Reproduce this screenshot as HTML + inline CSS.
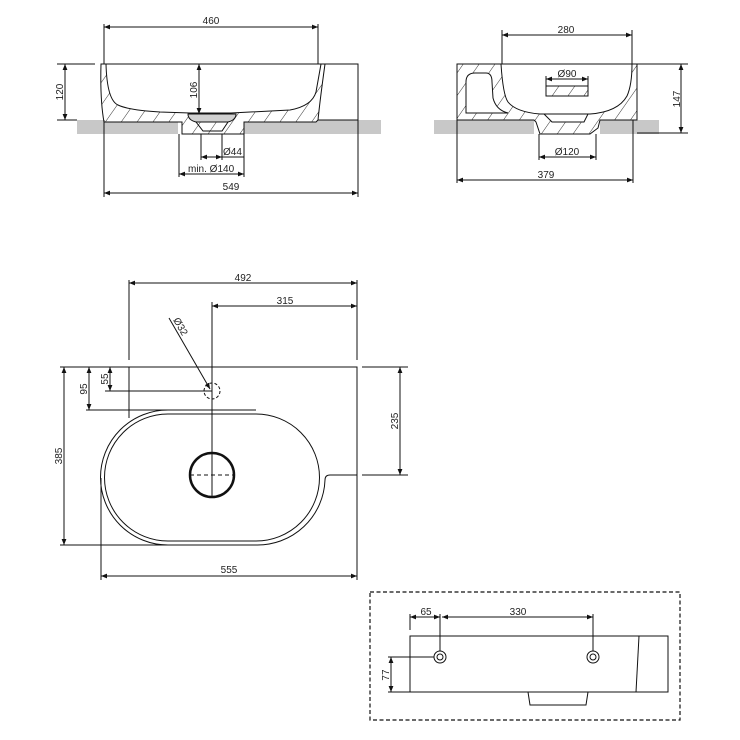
<!DOCTYPE html>
<html><head><meta charset="utf-8"><style>
html,body{margin:0;padding:0;background:#fff}
svg{display:block}
text{font-family:"Liberation Sans",sans-serif;font-size:10px;fill:#222}
</style></head><body>
<svg width="740" height="740" viewBox="0 0 740 740" xmlns="http://www.w3.org/2000/svg">
<defs>
<marker id="a" viewBox="0 0 10 10" refX="10" refY="5" markerWidth="6" markerHeight="6" orient="auto-start-reverse"><path d="M0,1 L10,5 L0,9 z" fill="#111"/></marker>
<pattern id="h" width="13" height="13" patternUnits="userSpaceOnUse" patternTransform="rotate(35)"><rect width="13" height="13" fill="#fff"/><line x1="0" y1="0" x2="0" y2="13" stroke="#333" stroke-width="1"/></pattern>
</defs>
<g stroke="#111" stroke-width="1" fill="none">

<rect x="77" y="120" width="101" height="14" fill="#c8c8c8" stroke="none"/>
<rect x="244" y="120" width="137" height="14" fill="#c8c8c8" stroke="none"/>
<path d="M101,64 L106,64 Q107,100 118,105 Q128,110 160,112 L190,113 L231,113 L290,110 Q312,106 316,92 L321,64 L325,64 Q320,100 318,120 L316,122 L244,122 L244,134 L182,134 L182,122 L104,122 Q100,100 101,64 Z" fill="url(#h)"/>
<path d="M188,114 L236,114 Q236,120 228,122 L196,122 Q188,120 188,114 Z" fill="#d0d0d0"/>
<path d="M196,122 L203,131 L222,131 L228,122" />
<path d="M320,64 L358,64 L358,120 L318,120"/>
<line x1="106" y1="64" x2="320" y2="64"/>
<line x1="104" y1="24" x2="104" y2="64"/>
<line x1="318" y1="24" x2="318" y2="64"/>
<line x1="104" y1="120" x2="104" y2="197"/>
<line x1="358" y1="120" x2="358" y2="197"/>
<line x1="57" y1="64" x2="95" y2="64"/>
<line x1="57" y1="120" x2="77" y2="120"/>
<line x1="179" y1="134" x2="179" y2="177"/>
<line x1="244" y1="134" x2="244" y2="177"/>
<line x1="201" y1="134" x2="201" y2="160"/>
<line x1="222" y1="134" x2="222" y2="160"/>
<line x1="104" y1="27" x2="318" y2="27" marker-start="url(#a)" marker-end="url(#a)"/>
<line x1="65" y1="64" x2="65" y2="120" marker-start="url(#a)" marker-end="url(#a)"/>
<line x1="199" y1="64" x2="199" y2="114" marker-start="url(#a)" marker-end="url(#a)"/>
<line x1="201" y1="157" x2="222" y2="157" marker-start="url(#a)" marker-end="url(#a)"/>
<line x1="222" y1="157" x2="244" y2="157"/>
<line x1="179" y1="174" x2="244" y2="174" marker-start="url(#a)" marker-end="url(#a)"/>
<line x1="104" y1="193" x2="358" y2="193" marker-start="url(#a)" marker-end="url(#a)"/>

<rect x="434" y="120" width="100" height="14" fill="#c8c8c8" stroke="none"/>
<rect x="600" y="120" width="59" height="14" fill="#c8c8c8" stroke="none"/>
<path d="M457,64 L501,64 Q503,95 508,102 Q516,112 540,114 L590,114 Q618,112 627,96 Q632,85 632,64 L637,64 L637,120 L600,120 L598,128 L590,134 L540,134 L536,122 L534,120 L457,120 Z" fill="url(#h)"/>
<path d="M466,112 L466,82 Q466,73 475,73 L486,73 Q492,73 492,82 L493,98 Q496,110 508,113 L466,113 Z" fill="#fff"/>
<line x1="501" y1="64" x2="632" y2="64"/>
<path d="M544,114 L588,114 L584,122 L552,122 Z" fill="#fff"/>
<rect x="546" y="86" width="42" height="10" fill="url(#h)"/>
<line x1="502" y1="30" x2="502" y2="64"/>
<line x1="632" y1="30" x2="632" y2="64"/>
<line x1="637" y1="64" x2="688" y2="64"/>
<line x1="637" y1="133" x2="688" y2="133"/>
<line x1="457" y1="120" x2="457" y2="183"/>
<line x1="633" y1="120" x2="633" y2="183"/>
<line x1="539" y1="134" x2="539" y2="160"/>
<line x1="596" y1="134" x2="596" y2="160"/>
<line x1="546" y1="76" x2="546" y2="86"/>
<line x1="588" y1="76" x2="588" y2="86"/>
<line x1="502" y1="35" x2="632" y2="35" marker-start="url(#a)" marker-end="url(#a)"/>
<line x1="546" y1="79" x2="588" y2="79" marker-start="url(#a)" marker-end="url(#a)"/>
<line x1="681" y1="64" x2="681" y2="133" marker-start="url(#a)" marker-end="url(#a)"/>
<line x1="539" y1="157" x2="596" y2="157" marker-start="url(#a)" marker-end="url(#a)"/>
<line x1="457" y1="180" x2="633" y2="180" marker-start="url(#a)" marker-end="url(#a)"/>

<path d="M60,367 L357,367 L357,475 L330,475 Q325,475 325,480"/>
<line x1="129" y1="367" x2="129" y2="418"/>
<path d="M256,410 L168,410 A67.5,67.5 0 0 0 168,545 L256,545 A67.5,67.5 0 0 0 325,480"/>
<path d="M168,414 L256,414 A63.5,63.5 0 0 1 256,541 L168,541 A63.5,63.5 0 0 1 168,414 Z"/>
<line x1="60" y1="545" x2="168" y2="545"/>
<line x1="86" y1="410" x2="168" y2="410"/>
<line x1="105" y1="391" x2="212" y2="391"/>
<line x1="101" y1="478" x2="101" y2="580"/>
<line x1="129" y1="280" x2="129" y2="360"/>
<line x1="357" y1="280" x2="357" y2="360"/>
<line x1="357" y1="475" x2="357" y2="580"/>
<line x1="362" y1="367" x2="408" y2="367"/>
<line x1="362" y1="475" x2="408" y2="475"/>
<line x1="212" y1="302" x2="212" y2="497"/>
<circle cx="212" cy="475" r="22" stroke-width="2.5"/>
<line x1="190" y1="475" x2="234" y2="475" stroke-dasharray="4,3"/>
<circle cx="212" cy="391" r="8" stroke-dasharray="3,2"/>
<line x1="169" y1="318" x2="210" y2="389" marker-end="url(#a)"/>
<line x1="129" y1="283" x2="357" y2="283" marker-start="url(#a)" marker-end="url(#a)"/>
<line x1="212" y1="306" x2="357" y2="306" marker-start="url(#a)" marker-end="url(#a)"/>
<line x1="64" y1="367" x2="64" y2="545" marker-start="url(#a)" marker-end="url(#a)"/>
<line x1="89" y1="367" x2="89" y2="410" marker-start="url(#a)" marker-end="url(#a)"/>
<line x1="110" y1="367" x2="110" y2="391" marker-start="url(#a)" marker-end="url(#a)"/>
<line x1="400" y1="367" x2="400" y2="475" marker-start="url(#a)" marker-end="url(#a)"/>
<line x1="101" y1="576" x2="357" y2="576" marker-start="url(#a)" marker-end="url(#a)"/>

<rect x="370" y="592" width="310" height="128" stroke-dasharray="4,2.5" stroke-width="1.2"/>
<rect x="410" y="636" width="258" height="56"/>
<line x1="639" y1="636" x2="636" y2="692"/>
<path d="M528,692 L530,705 L586,705 L588,692"/>
<circle cx="440" cy="657" r="6"/><circle cx="440" cy="657" r="3"/>
<circle cx="593" cy="657" r="6"/><circle cx="593" cy="657" r="3"/>
<line x1="410" y1="614" x2="410" y2="630"/>
<line x1="440" y1="614" x2="440" y2="651"/>
<line x1="593" y1="614" x2="593" y2="651"/>
<line x1="388" y1="657" x2="434" y2="657"/>
<line x1="388" y1="692" x2="410" y2="692"/>
<line x1="410" y1="617" x2="440" y2="617" marker-start="url(#a)" marker-end="url(#a)"/>
<line x1="442" y1="617" x2="593" y2="617" marker-start="url(#a)" marker-end="url(#a)"/>
<line x1="391" y1="657" x2="391" y2="692" marker-start="url(#a)" marker-end="url(#a)"/>
</g>

<text x="211" y="24" text-anchor="middle">460</text>
<text transform="translate(63,92) rotate(-90)" text-anchor="middle">120</text>
<text transform="translate(197,90) rotate(-90)" text-anchor="middle">106</text>
<text x="223" y="155">Ø44</text>
<text x="188" y="172">min. Ø140</text>
<text x="231" y="190" text-anchor="middle">549</text>

<text x="566" y="33" text-anchor="middle">280</text>
<text x="567" y="77" text-anchor="middle">Ø90</text>
<text transform="translate(680,99) rotate(-90)" text-anchor="middle">147</text>
<text x="567" y="155" text-anchor="middle">Ø120</text>
<text x="546" y="178" text-anchor="middle">379</text>

<text x="243" y="281" text-anchor="middle">492</text>
<text x="285" y="304" text-anchor="middle">315</text>
<text transform="translate(173,320) rotate(60)">Ø32</text>
<text transform="translate(62,456) rotate(-90)" text-anchor="middle">385</text>
<text transform="translate(87,389) rotate(-90)" text-anchor="middle">95</text>
<text transform="translate(108,379) rotate(-90)" text-anchor="middle">55</text>
<text transform="translate(398,421) rotate(-90)" text-anchor="middle">235</text>
<text x="229" y="573" text-anchor="middle">555</text>

<text x="426" y="615" text-anchor="middle">65</text>
<text x="518" y="615" text-anchor="middle">330</text>
<text transform="translate(389,675) rotate(-90)" text-anchor="middle">77</text>
</svg>
</body></html>
